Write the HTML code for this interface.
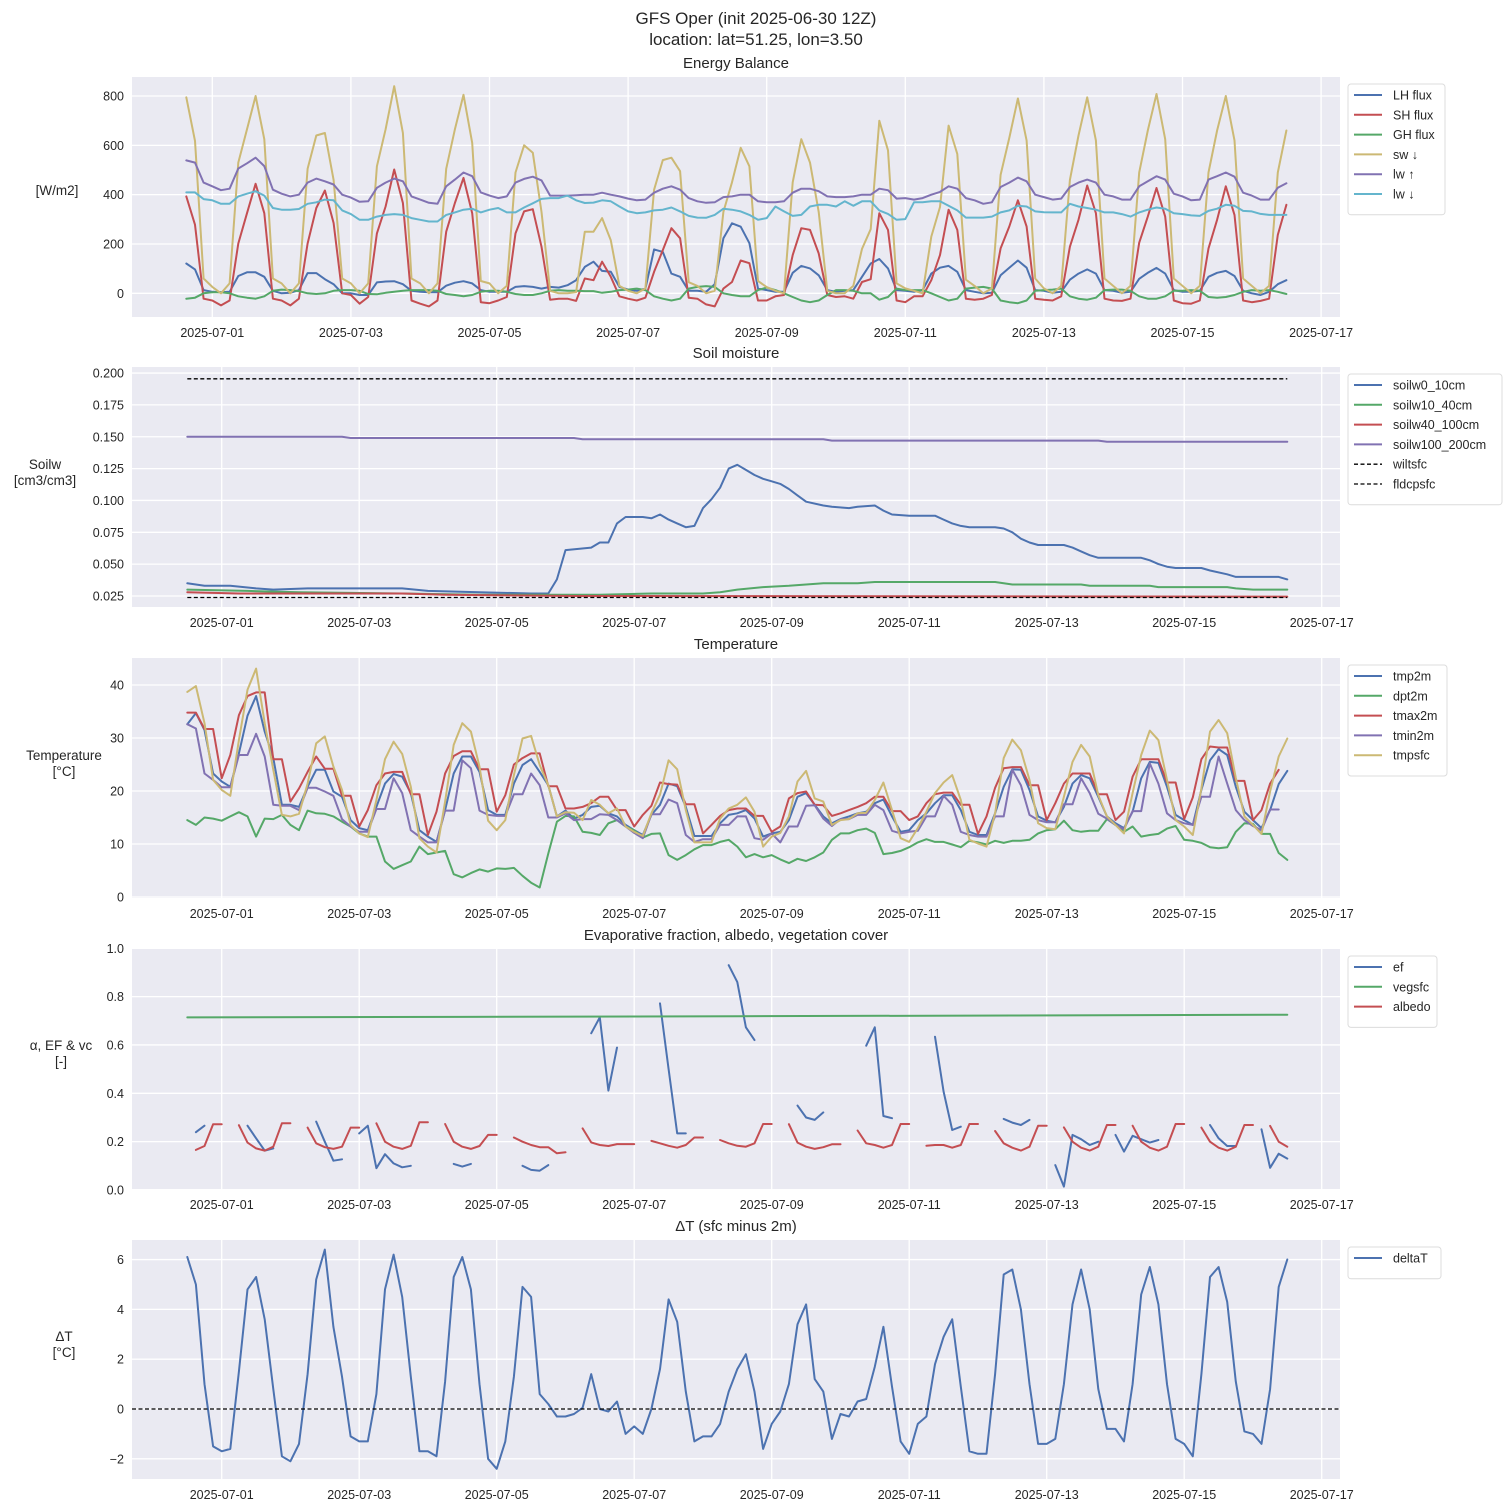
<!DOCTYPE html>
<html><head><meta charset="utf-8"><title>GFS Oper</title>
<style>
html,body{margin:0;padding:0;background:#fff;}
svg{display:block;font-family:"Liberation Sans",Arial,sans-serif;}
</style></head>
<body>
<svg id="fig" width="1511" height="1511" viewBox="0 0 1511 1511" xmlns="http://www.w3.org/2000/svg">
<text x="756" y="24" text-anchor="middle" font-size="17" fill="#262626">GFS Oper (init 2025-06-30 12Z)</text>
<text x="756" y="45" text-anchor="middle" font-size="17" fill="#262626">location: lat=51.25, lon=3.50</text>
</svg>
<script>
// ---------- shared x categories ----------
const xTickLabels = ["2025-07-01","2025-07-03","2025-07-05","2025-07-07","2025-07-09","2025-07-11","2025-07-13","2025-07-15","2025-07-17"];
const xTickDays = [0,2,4,6,8,10,12,14,16];

// ---------- Panel 1: energy balance (3h, lead 3..384) ----------
const ebLH = [121,97,13,
6,4,6,70,85,85,67,10, 0,2,13,82,82,57,37,0, 0,-7,-7,44,48,49,37,10, 6,4,4,31,43,49,40,13,
6,6,6,26,29,26,19,26, 23,33,53,107,128,91,87,26, 15,10,19,178,168,80,67,10, 10,6,37,223,284,270,203,19,
13,6,6,83,111,101,73,13, 6,10,13,67,121,139,101,13, 10,6,13,80,104,111,87,13, 6,0,2,73,104,133,104,13,
10,2,6,55,80,97,80,13, 10,2,6,59,83,103,80,13, 6,6,10,67,83,91,70,10, 0,-7,6,37,53];
const ebSH = [393,278,-22,
-29,-49,-29,202,325,444,325,-22, -29,-49,-22,202,346,417,285,0, -7,-42,-15,243,352,502,366,-29, -42,-53,-29,250,366,468,325,-36,
-40,-29,-15,243,332,341,189,-26, -22,-22,-31,60,53,128,67,-12, -22,-29,-18,87,175,264,223,-18, -22,-45,-53,19,46,133,122,-29,
-29,-12,-7,155,264,257,162,-7, -15,-12,-22,46,57,325,257,-29, -36,-12,-12,53,155,339,257,-22, -26,-22,-7,182,271,377,271,-22,
-26,-29,-12,189,298,437,325,-22, -29,-31,-22,205,311,427,311,-29, -40,-42,-29,182,298,434,318,-29, -36,-31,-22,237,359];
const ebGH = [-22,-18,0,
4,4,0,-12,-18,-22,-12,10, 15,13,9,0,-3,0,10,13, 13,10,-3,-4,2,6,10,13, 13,13,10,-3,-7,-12,-7,6,
10,10,6,-3,-7,-7,0,10, 13,10,10,9,9,2,6,13, 15,19,13,-12,-22,-29,-22,19, 26,29,26,0,-7,-12,-12,13,
23,13,0,-15,-29,-36,-29,-7, 13,13,10,0,0,-26,-15,19, 13,13,13,0,-15,-29,-22,19, 23,26,19,-29,-36,-40,-29,10,
13,15,19,-12,-22,-26,-18,13, 15,15,10,-12,-22,-22,-12,10, 10,13,10,-15,-18,-15,-7,6, 13,10,13,6,-3];
const ebSW = [795,618,60,
26,0,40,530,665,800,625,60, 40,0,40,505,640,650,460,60, 40,0,40,515,665,840,650,60, 40,0,40,505,665,805,610,50,
40,0,30,490,600,570,330,10, 0,0,5,250,250,305,215,30, 10,0,20,420,540,550,495,45, 30,0,10,330,450,590,515,50,
25,10,0,450,625,530,330,10, 0,0,30,180,260,700,580,40, 20,10,0,230,350,680,565,55, 30,0,20,480,630,790,620,60,
20,0,30,460,640,795,620,60, 30,0,30,490,660,808,625,60, 30,0,30,490,660,800,620,60, 30,0,30,490,660];
const ebLWup = [539,530,449,
434,418,424,506,527,550,516,420, 404,393,400,449,465,454,441,400, 388,371,373,428,449,465,454,393, 380,367,363,434,461,490,475,409,
396,386,393,449,464,473,458,396, 396,396,398,400,400,408,400,393, 384,377,380,408,424,434,420,386, 373,367,369,390,393,400,400,373,
369,369,373,408,424,424,414,393, 390,390,393,400,400,424,418,384, 386,380,386,400,411,434,424,386, 377,363,369,431,449,469,454,400,
390,380,384,431,449,461,449,400, 393,380,380,434,454,475,461,404, 393,377,380,461,475,490,473,408, 396,380,380,428,446];
const ebLWdn = [409,409,382,
377,363,363,393,404,414,396,346, 339,339,342,363,369,380,377,336, 321,298,298,311,318,321,318,305, 298,291,291,318,328,339,343,328,
339,346,328,328,348,365,383,386, 386,396,377,366,368,377,373,352, 332,325,328,336,339,348,332,314, 307,306,318,343,339,332,318,298,
305,352,332,314,318,352,359,359, 352,373,355,373,373,336,322,298, 301,369,369,373,373,355,336,307, 307,307,311,328,336,355,352,332,
329,328,328,363,352,346,339,328, 328,321,311,328,339,348,343,325, 321,316,314,334,343,359,355,334, 332,322,318,318,318];
const ebYTicks = [0,200,400,600,800];

// ---------- Panel 2: soil moisture ([3h-step index, value]) ----------
const soil0_10 = [[0,.035],[2,.033],[5,.033],[8,.031],[10,.030],[14,.031],[25,.031],[28,.029],[34,.028],[40,.027],[42,.027],[43,.038],[44,.061],[47,.063],[48,.067],[49,.067],[50,.082],[51,.087],[53,.087],[54,.086],[55,.089],[56,.085],[57,.082],[58,.079],[59,.080],[60,.094],[61,.101],[62,.110],[63,.125],[64,.128],[65,.124],[66,.120],[67,.117],[68,.115],[69,.113],[70,.109],[71,.104],[72,.099],[74,.096],[75,.095],[77,.094],[78,.095],[80,.096],[81,.092],[82,.089],[84,.088],[87,.088],[88,.085],[89,.082],[90,.080],[91,.079],[94,.079],[95,.078],[96,.075],[97,.070],[98,.067],[99,.065],[102,.065],[103,.063],[104,.060],[105,.057],[106,.055],[111,.055],[112,.053],[113,.050],[114,.048],[115,.047],[118,.047],[119,.045],[121,.042],[122,.040],[127,.040],[128,.038]];
const soil10_40 = [[0,.030],[7,.029],[13,.028],[25,.027],[34,.026],[48,.026],[54,.027],[60,.027],[62,.028],[64,.030],[67,.032],[70,.033],[72,.034],[74,.035],[78,.035],[80,.036],[94,.036],[95,.035],[96,.034],[104,.034],[105,.033],[112,.033],[113,.032],[121,.032],[122,.031],[124,.030],[128,.030]];
const soil40_100 = [[0,.028],[6,.027],[25,.027],[30,.026],[45,.025],[128,.0245]];
const soil100_200 = [[0,.150],[18,.150],[19,.149],[45,.149],[46,.148],[74,.148],[75,.147],[106,.147],[107,.146],[128,.146]];
const wiltsfc = [[0,.0238],[128,.0238]];
const fldcpsfc = [[0,.1955],[128,.1955]];
const soilYTicks = [0.025,0.050,0.075,0.100,0.125,0.150,0.175,0.200];

// ---------- Panel 3: temperature (3h, lead 0..384) ----------
const tmp2m = [32.6,34.7,31.5,23.3,21.8,20.8,27.1,34.2,37.9,31.2,26.2,17.4,17.4,17.0,20.8,24.0,24.0,19.9,18.9,14.5,13.0,12.6,17.0,21.4,23.2,22.7,19.6,12.6,11.4,10.4,16.4,23.3,26.5,26.5,23.6,16.4,15.5,15.5,21.4,24.9,26.0,23.6,21.1,15.2,16.3,14.8,15.5,17.0,17.2,15.8,15.2,13.6,12.6,11.7,15.5,17.4,21.4,20.9,17.0,11.5,11.5,11.5,13.9,15.5,
15.8,16.4,14.8,11.4,12.0,12.3,14.5,18.9,19.6,17.4,15.2,13.9,14.7,15.2,15.8,16.1,17.7,18.4,15.2,12.3,12.6,14.5,15.8,17.7,19.2,19.2,16.4,12.3,11.7,11.7,15.8,20.8,24.1,24.0,20.2,15.2,14.4,14.1,17.0,21.4,23.0,22.4,18.9,15.2,13.9,13.0,16.1,22.4,25.5,25.3,20.8,15.5,14.5,13.6,20.2,25.8,27.9,26.8,20.8,16.1,14.5,13.0,16.4,21.3,23.8];
const dpt2m = [14.5,13.6,15.0,14.8,14.4,15.2,16.0,15.2,11.4,14.8,14.7,15.5,13.6,12.6,16.3,15.8,15.7,15.2,14.2,13.3,12.0,11.4,11.4,6.7,5.3,6.0,6.7,9.5,8.1,8.4,8.7,4.3,3.7,4.5,5.2,4.8,5.4,5.3,5.5,4.0,2.7,1.8,8.2,14.2,15.3,15.2,12.3,12.1,11.7,13.9,14.5,13.3,12.6,11.2,11.9,12.0,7.9,7.0,7.9,9.0,9.8,9.8,10.4,10.8,
9.5,7.5,8.1,7.5,7.9,7.1,6.4,7.2,6.8,7.5,8.4,10.8,12.0,12.0,12.6,12.9,12.1,8.1,8.3,8.7,9.4,10.3,10.9,10.4,10.4,9.9,9.4,10.6,10.3,9.9,10.6,10.2,10.6,10.6,10.8,12.0,12.6,12.8,14.4,12.6,12.3,12.5,12.5,14.7,13.6,12.3,13.3,11.4,11.7,11.9,12.9,13.4,10.8,10.6,10.2,9.4,9.2,9.4,12.3,13.9,13.8,11.9,11.9,8.3,7.0];
const tmax2m = [34.8,34.8,31.7,31.7,22.4,26.8,34.3,37.9,38.6,38.6,26.0,26.0,18.0,20.5,23.6,26.5,24.2,24.2,19.1,19.1,13.3,16.4,21.1,23.3,23.6,23.6,19.4,19.4,11.7,16.1,23.3,26.6,27.5,27.5,24.1,24.1,16.1,19.2,25.0,26.2,27.1,27.1,20.9,20.9,16.7,16.7,17.0,17.7,18.9,18.9,16.4,16.4,13.3,15.5,17.2,21.6,21.3,21.2,17.5,17.5,12.0,13.6,15.3,16.4,
16.7,16.7,15.3,15.3,12.3,13.3,18.6,19.6,19.9,17.4,17.3,15.3,15.8,16.4,17.0,17.7,18.9,18.9,16.2,16.2,14.5,15.2,17.7,19.4,19.7,19.7,17.4,17.4,11.9,15.2,20.6,24.3,24.5,24.5,21.1,21.1,14.5,17.7,21.4,23.3,23.3,23.3,19.4,19.4,14.5,16.1,22.7,26.0,26.0,26.0,21.6,21.6,14.7,18.8,26.0,28.4,28.2,28.2,21.9,21.9,14.5,16.4,21.4,24.0,null];
const tmin2m = [32.6,31.8,23.3,22.1,20.7,20.7,26.8,26.8,30.8,26.5,17.4,17.2,17.2,16.4,20.6,20.6,19.9,19.1,14.7,13.3,12.3,12.3,16.6,16.6,22.4,19.6,12.6,11.4,10.3,10.3,16.3,16.3,25.8,24.3,16.3,15.5,15.3,15.3,19.4,19.4,23.3,21.1,15.0,15.0,15.8,14.5,14.7,14.7,15.6,15.5,14.5,13.3,12.1,11.1,15.6,15.6,18.4,17.7,11.7,10.4,10.9,10.9,13.6,13.6,
15.2,15.2,11.1,10.8,12.0,10.3,13.3,13.3,17.2,17.3,14.8,13.4,14.7,14.7,15.5,15.5,17.4,16.4,12.5,12.0,12.3,12.5,15.2,15.2,19.1,17.4,12.3,11.7,11.4,11.4,15.2,15.2,24.0,21.1,15.5,14.5,14.1,14.1,17.5,17.5,22.4,19.6,15.7,14.8,13.6,12.8,16.2,16.2,25.2,21.4,15.8,14.5,13.9,13.6,18.9,18.9,26.5,21.4,16.4,14.5,13.4,12.6,16.5,16.5,null];
const tmpsfc = [38.7,39.8,32.8,22.1,20.2,19.1,29.6,39.1,43.1,32.8,24.0,15.5,15.2,15.7,21.4,29.0,30.3,24.6,20.2,13.6,12.0,11.3,18.3,26.0,29.3,27.0,20.8,11.1,9.5,8.4,18.0,28.7,32.8,31.2,24.6,14.4,12.6,14.5,23.0,29.9,30.4,24.9,21.1,15.2,16.0,15.9,14.5,18.3,17.4,15.8,16.7,13.3,12.3,11.5,15.8,19.3,25.8,24.1,16.4,10.3,10.3,10.3,14.8,16.7,
17.4,18.8,16.1,9.5,11.4,12.1,15.2,21.8,23.8,18.6,18.0,13.6,14.5,14.7,15.8,15.9,18.3,21.6,16.4,11.1,10.4,13.0,16.1,19.6,21.6,23.0,18.3,10.8,10.1,9.5,15.8,26.2,29.7,27.7,22.1,13.9,13.0,12.8,18.9,25.5,28.7,26.5,19.2,15.2,13.6,12.0,19.6,26.8,31.4,29.6,22.1,14.5,13.3,11.7,20.5,31.2,33.4,30.9,22.5,15.2,13.6,11.9,19.9,26.5,29.9];
const tempYTicks = [0,10,20,30,40];

// ---------- Panel 4: ef, vegsfc, albedo ----------
const ef = [null,.239,.266,null,null,null,null,.266,.214,.163,.172,null,null,null,null,.283,.2,.121,.127,null,.234,.266,.09,.148,.11,.094,.1,null,null,null,null,.108,.097,.108,null,null,null,null,null,.1,.083,.08,.103,null,null,null,null,.648,.714,.411,.589,null,null,null,null,.772,.5,.234,.234,null,null,null,null,.93,.86,.673,.62,null,null,null,null,.349,.3,.29,.321,null,null,null,null,.597,.673,.306,.297,null,null,null,null,.634,.407,.248,.262,null,null,null,null,.294,.279,.269,.29,null,null,.103,.014,.228,.21,.186,.2,null,.228,.159,.224,.21,.196,.207,null,null,null,null,null,.269,.214,.182,.182,null,null,.251,.092,.15,.13];
const vegsfc = [[0,.714],[32,.716],[64,.719],[96,.722],[128,.725]];
const albedo = [null,.166,.182,.272,.272,null,
.268,.196,.172,.163,.179,.276,.276,null, .258,.193,.177,.170,.179,.258,.258,null, .276,.200,.179,.170,.183,.280,.280,null, .273,.200,.179,.170,.182,.228,.228,null,
.217,.200,.186,.177,.177,.152,.156,null, .255,.197,.186,.182,.190,.190,.190,null, .203,.193,.183,.175,.186,.217,.217,null, .207,.193,.183,.179,.193,.273,.273,null,
.272,.196,.179,.170,.177,.189,.189,null, .246,.193,.186,.175,.186,.273,.273,null, .183,.186,.186,.175,.186,.273,.273,null, .244,.193,.175,.163,.179,.266,.266,null,
.259,.200,.175,.163,.179,.269,.269,null, .266,.200,.175,.163,.179,.273,.273,null, .258,.200,.175,.163,.179,.269,.269,null, .265,.200,.179];
const efYTicks = [0,0.2,0.4,0.6,0.8,1.0];

// ---------- Panel 5: deltaT ----------
const deltaT = [6.1,5.0,1.0,-1.5,-1.7,-1.6,1.5,4.8,5.3,3.6,0.8,-1.9,-2.1,-1.4,1.4,5.2,6.4,3.3,1.3,-1.1,-1.3,-1.3,0.6,4.8,6.2,4.5,1.3,-1.7,-1.7,-1.9,1.1,5.3,6.1,4.8,1.0,-2.0,-2.4,-1.3,1.3,4.9,4.5,0.6,0.2,-0.3,-0.3,-0.2,0.05,1.4,0.0,-0.1,0.3,-1.0,-0.7,-1.0,0.0,1.6,4.4,3.5,0.7,-1.3,-1.1,-1.1,-0.6,0.7,
1.6,2.2,0.7,-1.6,-0.6,-0.1,1.0,3.4,4.2,1.2,0.7,-1.2,-0.2,-0.3,0.3,0.4,1.7,3.3,0.9,-1.3,-1.8,-0.6,-0.3,1.8,2.9,3.6,0.9,-1.7,-1.8,-1.8,1.4,5.4,5.6,4.0,1.0,-1.4,-1.4,-1.2,1.0,4.2,5.6,4.0,0.8,-0.8,-0.8,-1.3,1.0,4.6,5.7,4.2,1.0,-1.2,-1.4,-1.9,1.4,5.3,5.7,4.3,1.1,-0.9,-1.0,-1.4,0.8,4.9,6.0];
const dtYTicks = [-2,0,2,4,6];
const dtZero = [[0,0],[1,0]];

// ---------- drawing ----------
const NS = "http://www.w3.org/2000/svg";
const svg = document.getElementById("fig");
const C = {blue:"#4C72B0",green:"#55A868",red:"#C44E52",purple:"#8172B2",yellow:"#CCB974",cyan:"#64B5CD"};
function mk(tag, attrs, parent){const e=document.createElementNS(NS,tag);for(const k in attrs)e.setAttribute(k,attrs[k]);(parent||svg).appendChild(e);return e;}

function makeX(origin, perDay){ return function(leadH){ return origin + perDay*(-0.5 + leadH/24); }; }
function dayX(origin, perDay){ return function(d){ return origin + perDay*d; }; }
function makeY(v0, y0, pxPerUnit){ return function(v){ return y0 - (v - v0)*pxPerUnit; }; }

function panel(p){
  const g = mk("g",{});
  
  
  const bg = mk("rect",{x:p.L,y:p.T,width:p.R-p.L,height:p.B-p.T,fill:"#EAEAF2"},g);
  
  
  const clipId = p.name+"-clip";
  const cp = mk("clipPath",{id:clipId},g); mk("rect",{x:p.L,y:p.T,width:p.R-p.L,height:p.B-p.T},cp);
  // grid + y ticks
  p.yTicks.forEach(v=>{
    const y = p.y(v);
    const gl = mk("line",{x1:p.L,x2:p.R,y1:y,y2:y,stroke:"#fff","stroke-width":1.3},g);
    
    
    const t = mk("text",{x:p.L-8,y:y+4.5,"text-anchor":"end","font-size":12.5,fill:"#262626"},g);
    t.textContent = p.fmt(v);
    
    
  });
  xTickDays.forEach((d,i)=>{
    const x = p.dx(d);
    const gl = mk("line",{x1:x,x2:x,y1:p.T,y2:p.B,stroke:"#fff","stroke-width":1.3},g);
    
    
    const t = mk("text",{x:x,y:p.B+20,"text-anchor":"middle","font-size":12.5,fill:"#262626"},g);
    t.textContent = xTickLabels[i];
    
    
  });
  const tt = mk("text",{x:(p.L+p.R)/2,y:p.T-9,"text-anchor":"middle","font-size":15,fill:"#262626"},g);
  tt.textContent = p.title;
  
  
  p.ylabel.forEach((s,i)=>{
    const t = mk("text",{x:p.ylx,y:p.yly+i*16,"text-anchor":"middle","font-size":13.5,fill:"#262626"},g);
    t.textContent = s;
    
    
  });
  const sg = mk("g",{"clip-path":"url(#"+clipId+")"},g);
  p.series.forEach(s=>{
    let d="", pen=false;
    if (s.pairs){
      s.pairs.forEach((pt,k)=>{ const x=s.px(pt[0]), y=p.y(pt[1]); d += (k?"L":"M")+x.toFixed(1)+","+y.toFixed(1); });
    } else {
      s.values.forEach((v,i)=>{
        if (v===null||v===undefined){pen=false;return;}
        const x=p.x(s.lead(i)), y=p.y(v);
        d += (pen?"L":"M")+x.toFixed(1)+","+y.toFixed(1); pen=true;
      });
    }
    const path = mk("path",{d:d,fill:"none",stroke:s.color,"stroke-width":s.dash?1.3:2,"stroke-linejoin":"round","stroke-linecap":s.dash?"butt":"round"},sg);
    if (s.dash) path.setAttribute("stroke-dasharray", s.dash);
    
    
  });
  // legend
  if (p.legend){
    const lg = mk("g",{},g);
    
    
    const n = p.series.filter(s=>s.label).length;
    mk("rect",{x:1348,y:p.T+7,width:p.legendW,height:n*19.8+12,rx:3,fill:"#fff","fill-opacity":0.85,stroke:"#dcdcdc","stroke-width":1},lg);
    let k=0;
    p.series.forEach(s=>{
      if(!s.label) return;
      const y = p.T+18+k*19.8+ (p.legendOff||0);
      const e = mk("g",{},lg);
      
      
      const ln = mk("line",{x1:1354,x2:1382,y1:y,y2:y,stroke:s.color,"stroke-width":s.dash?1.3:2},e);
      if (s.dash) ln.setAttribute("stroke-dasharray", s.dash);
      const t = mk("text",{x:1393,y:y+4.5,"font-size":12.5,fill:"#262626"},e);
      t.textContent = s.label;
      k++;
    });
  }
}

const leadEB = i => 3 + 3*i;
const lead0 = i => 3*i;
const xP1 = makeX(212.3, 69.3), dP1 = dayX(212.3, 69.3);
const xP = makeX(221.7, 68.75), dP = dayX(221.7, 68.75);
const idxX = i => xP(3*i);

panel({name:"energy-balance-panel",title:"Energy Balance",L:132,R:1340,T:77,B:317,
  x:xP1,dx:dP1,y:makeY(0,293.3,0.2466),yTicks:ebYTicks,fmt:v=>String(v),
  ylabel:["[W/m2]"],ylx:57,yly:195,legend:true,legendW:97,
  series:[
    {key:"lh-flux",label:"LH flux",color:C.blue,values:ebLH,lead:leadEB},
    {key:"sh-flux",label:"SH flux",color:C.red,values:ebSH,lead:leadEB},
    {key:"gh-flux",label:"GH flux",color:C.green,values:ebGH,lead:leadEB},
    {key:"sw-down",label:"sw \u2193",color:C.yellow,values:ebSW,lead:leadEB},
    {key:"lw-up",label:"lw \u2191",color:C.purple,values:ebLWup,lead:leadEB},
    {key:"lw-down",label:"lw \u2193",color:C.cyan,values:ebLWdn,lead:leadEB}
  ]});

panel({name:"soil-moisture-panel",title:"Soil moisture",L:132,R:1340,T:367,B:607,
  x:xP,dx:dP,y:makeY(0.025,596,1274),yTicks:soilYTicks,fmt:v=>v.toFixed(3),
  ylabel:["Soilw","[cm3/cm3]"],ylx:45,yly:469,legend:true,legendW:154,
  series:[
    {key:"soilw0-10cm",label:"soilw0_10cm",color:C.blue,pairs:soil0_10,px:idxX},
    {key:"soilw10-40cm",label:"soilw10_40cm",color:C.green,pairs:soil10_40,px:idxX},
    {key:"soilw40-100cm",label:"soilw40_100cm",color:C.red,pairs:soil40_100,px:idxX},
    {key:"soilw100-200cm",label:"soilw100_200cm",color:C.purple,pairs:soil100_200,px:idxX},
    {key:"wiltsfc",label:"wiltsfc",color:"#000",pairs:wiltsfc,px:idxX,dash:"4,2.5"},
    {key:"fldcpsfc",label:"fldcpsfc",color:"#000",pairs:fldcpsfc,px:idxX,dash:"4,2.5"}
  ]});

panel({name:"temperature-panel",title:"Temperature",L:132,R:1340,T:658,B:898,
  x:xP,dx:dP,y:makeY(0,897,5.3),yTicks:tempYTicks,fmt:v=>String(v),
  ylabel:["Temperature","[\u00B0C]"],ylx:64,yly:760,legend:true,legendW:99,
  series:[
    {key:"tmp2m",label:"tmp2m",color:C.blue,values:tmp2m,lead:lead0},
    {key:"dpt2m",label:"dpt2m",color:C.green,values:dpt2m,lead:lead0},
    {key:"tmax2m",label:"tmax2m",color:C.red,values:tmax2m,lead:lead0},
    {key:"tmin2m",label:"tmin2m",color:C.purple,values:tmin2m,lead:lead0},
    {key:"tmpsfc",label:"tmpsfc",color:C.yellow,values:tmpsfc,lead:lead0}
  ]});

panel({name:"ef-albedo-panel",title:"Evaporative fraction, albedo, vegetation cover",L:132,R:1340,T:949,B:1189,
  x:xP,dx:dP,y:makeY(0,1190,241.75),yTicks:efYTicks,fmt:v=>v.toFixed(1),
  ylabel:["\u03B1, EF & vc","[-]"],ylx:61,yly:1050,legend:true,legendW:89,
  series:[
    {key:"ef",label:"ef",color:C.blue,values:ef,lead:lead0},
    {key:"vegsfc",label:"vegsfc",color:C.green,pairs:vegsfc,px:idxX},
    {key:"albedo",label:"albedo",color:C.red,values:albedo,lead:lead0}
  ]});

panel({name:"delta-t-panel",title:"\u0394T (sfc minus 2m)",L:132,R:1340,T:1240,B:1479,
  x:xP,dx:dP,y:makeY(0,1409,24.91),yTicks:dtYTicks,fmt:v=>(v<0?"\u2212"+Math.abs(v):String(v)),
  ylabel:["\u0394T","[\u00B0C]"],ylx:64,yly:1341,legend:true,legendW:93,
  series:[
    {key:"delta-t",label:"deltaT",color:C.blue,values:deltaT,lead:lead0},
    {key:"zero-line",color:"#000",pairs:dtZero,px:(f)=>132+f*1208,dash:"4,2.5"}
  ]});
</script>
</body></html>
